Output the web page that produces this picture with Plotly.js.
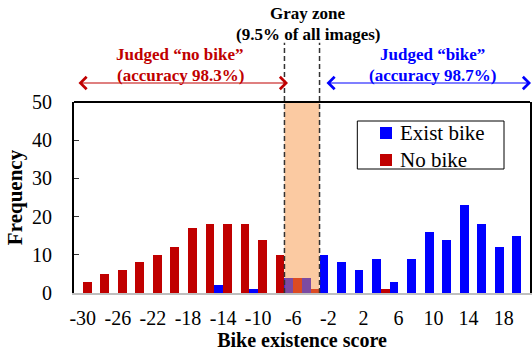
<!DOCTYPE html>
<html>
<head>
<meta charset="utf-8">
<script src="https://cdn.plot.ly/plotly-3.0.1.min.js"></script>
<style>html,body{margin:0;padding:0;background:#fff;}#chart{width:532px;height:353px;}</style>
</head>
<body>
<div id="chart"></div>
<script>
var scores = [-30,-28,-26,-24,-22,-20,-18,-16,-14,-12,-10,-8,-6,-4,-2,0,2,4,6,8,10,12,14,16,18,20];
var existBike = [0,0,0,0,0,0,0,0,2,0,1,0,4,4,10,8,6,9,3,9,16,14,23,18,12,15];
var noBike = [3,5,6,8,10,12,17,18,18,18,14,10,4,1,0,0,0,1,0,0,0,0,0,0,0,0];
var seriesNames = ["Exist bike", "No bike"];
var tickVals = [-30,-26,-22,-18,-14,-10,-6,-2,2,6,10,14,18];
var tickText = ["-30","-26","-22","-18","-14","-10","-6","-2","2","6","10","14","18"];
var grayZone = [-7,-3];

var FONT = "'Liberation Serif', 'Times New Roman', serif";
var RED = "#C00000", BLUE = "#0000FF";
var colors = [BLUE, RED];

var traces = [
  {type:"bar", name:seriesNames[0], x:scores, y:existBike, marker:{color:colors[0], line:{width:0}}},
  {type:"bar", name:seriesNames[1], x:scores, y:noBike, marker:{color:colors[1], line:{width:0}}}
];

// legend drawn as a box with swatches and text (paper coordinates)
var legBox = {x0:0.6213, x1:0.943, y0:0.6492, y1:0.9005};
var legRows = [0.8377, 0.6963];
var legShapes = [
  {type:"rect", xref:"paper", yref:"paper", x0:legBox.x0, x1:legBox.x1, y0:legBox.y0, y1:legBox.y1,
   fillcolor:"#fff", line:{color:"#000", width:1}, layer:"above"}
];
var legAnn = [];
for (var i = 0; i < seriesNames.length; i++) {
  legShapes.push({type:"rect", xref:"paper", yref:"paper", x0:0.6711, x1:0.6974,
                  y0:legRows[i]-0.0314, y1:legRows[i]+0.0314, fillcolor:colors[i], line:{width:0}, layer:"above"});
  legAnn.push({xref:"paper", yref:"paper", x:0.7105, y:legRows[i], text:seriesNames[i], showarrow:false,
               xanchor:"left", yanchor:"middle", font:{family:FONT, size:21, color:"#000"}});
}

var arrowY = 1.0995;
var layout = {
  width:532, height:353,
  margin:{l:74, r:2, t:102, b:60, pad:0},
  paper_bgcolor:"#fff", plot_bgcolor:"#fff",
  font:{family:FONT, color:"#000"},
  barmode:"group", bargap:0, bargroupgap:0,
  showlegend:false,
  xaxis:{range:[-31,21], tickmode:"array", tickvals:tickVals, ticktext:tickText, ticks:"",
         showgrid:false, zeroline:false, showline:true, linecolor:"#BFBFBF", linewidth:2,
         tickfont:{family:FONT, size:20, color:"#000"}, ticklabelstandoff:6,
         title:{text:"<b>Bike existence score</b>", font:{family:FONT, size:20, color:"#000"}, standoff:0}},
  yaxis:{range:[0,50], dtick:10, ticks:"inside", ticklen:5, tickwidth:1, tickcolor:"#333",
         showgrid:false, zeroline:false, showline:true, linecolor:"#000", linewidth:2, mirror:true,
         tickfont:{family:FONT, size:20, color:"#000"}, ticklabelstandoff:16,
         title:{text:"<b>Frequency</b>", font:{family:FONT, size:21, color:"#000"}, standoff:4}},
  shapes:[
    {type:"rect", xref:"x", yref:"paper", x0:grayZone[0], x1:grayZone[1], y0:0, y1:1,
     fillcolor:"#F79646", opacity:0.5, line:{width:0}, layer:"above"},
    {type:"line", xref:"x", yref:"paper", x0:grayZone[0], x1:grayZone[0], y0:0, y1:1.31,
     line:{color:"#333", width:1.5, dash:"5px,3px"}, layer:"above"},
    {type:"line", xref:"x", yref:"paper", x0:grayZone[1], x1:grayZone[1], y0:0, y1:1.31,
     line:{color:"#333", width:1.5, dash:"5px,3px"}, layer:"above"},
    {type:"line", xref:"paper", yref:"paper", x0:0, x1:1, y0:1, y1:1,
     line:{color:"#000", width:2}, layer:"above"}
  ].concat(legShapes),
  annotations:[
    {xref:"paper", yref:"paper", x:0.5126, y:1.461, text:"<b>Gray zone</b>", showarrow:false,
     xanchor:"center", yanchor:"middle", font:{family:FONT, size:17, color:"#000"}},
    {xref:"paper", yref:"paper", x:0.5126, y:1.356, text:"<b>(9.5% of all images)</b>", showarrow:false,
     xanchor:"center", yanchor:"middle", font:{family:FONT, size:17, color:"#000"}},
    {xref:"paper", yref:"paper", x:0.232, y:1.251, text:"<b>Judged “no bike”</b>", showarrow:false,
     xanchor:"center", yanchor:"middle", font:{family:FONT, size:17, color:RED}},
    {xref:"paper", yref:"paper", x:0.234, y:1.141, text:"<b>(accuracy 98.3%)</b>", showarrow:false,
     xanchor:"center", yanchor:"middle", font:{family:FONT, size:17, color:RED}},
    {xref:"paper", yref:"paper", x:0.786, y:1.251, text:"<b>Judged “bike”</b>", showarrow:false,
     xanchor:"center", yanchor:"middle", font:{family:FONT, size:17, color:BLUE}},
    {xref:"paper", yref:"paper", x:0.786, y:1.141, text:"<b>(accuracy 98.7%)</b>", showarrow:false,
     xanchor:"center", yanchor:"middle", font:{family:FONT, size:17, color:BLUE}},
    {xref:"paper", yref:"paper", x:(288-74)/456, y:arrowY, ax:-211, ay:0, axref:"pixel", ayref:"pixel",
     text:"", showarrow:true, arrowside:"end+start", arrowhead:4, startarrowhead:4,
     arrowsize:2, startarrowsize:2, arrowwidth:1.2, arrowcolor:RED, standoff:0, startstandoff:0},
    {xref:"paper", yref:"paper", x:(531-74)/456, y:arrowY, ax:-206, ay:0, axref:"pixel", ayref:"pixel",
     text:"", showarrow:true, arrowside:"end+start", arrowhead:4, startarrowhead:4,
     arrowsize:2, startarrowsize:2, arrowwidth:1.2, arrowcolor:BLUE, standoff:0, startstandoff:0}
  ].concat(legAnn)
};

Plotly.newPlot("chart", traces, layout, {displayModeBar:false, staticPlot:true});
</script>
</body>
</html>
